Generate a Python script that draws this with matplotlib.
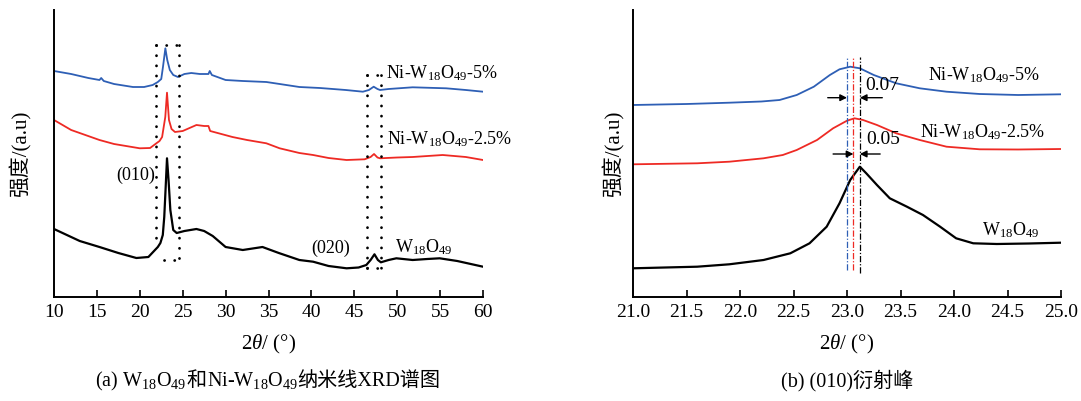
import matplotlib
matplotlib.use("Agg")
import matplotlib.pyplot as plt
from matplotlib.offsetbox import TextArea, HPacker, AnnotationBbox

FAM = ['Liberation Serif', 'Noto Sans CJK SC', 'DejaVu Sans']
plt.rcParams['font.family'] = FAM
plt.rcParams['mathtext.fontset'] = 'custom'
plt.rcParams['mathtext.rm'] = 'Liberation Serif'
plt.rcParams['mathtext.it'] = 'Liberation Serif:italic'
plt.rcParams['mathtext.bf'] = 'Liberation Serif:bold'

# ---------------- data (a): full XRD patterns (offset intensity, a.u.) ----------------
a_x_5 = [10, 12, 14, 15.3, 15.5, 15.8, 17, 19.2, 20.5, 21.5, 22.1, 22.5, 22.7, 22.98, 23.2, 23.5, 23.9,
         24.45, 25.2, 26, 27, 28.0, 28.15, 28.4, 30, 32, 34.75, 36.3, 38.6, 41, 44, 46.0, 46.7, 47.26,
         47.7, 48.0, 49, 51.8, 55.7, 58, 60]
a_y_5 = [226, 223, 219, 217, 219, 216, 213, 210, 210, 212, 215, 218, 230, 248.7, 237, 227, 222,
         220, 223, 224, 223, 223, 226, 222, 217, 216, 215, 213, 210, 209, 207, 205.3, 207, 210.3,
         208, 207, 208, 209.7, 208.7, 207, 205.3]

a_x_25 = [10, 12, 15.3, 17, 20, 21.2, 21.93, 22.3, 22.6, 22.97, 23.17, 23.4, 23.7, 24.1, 25, 26.6, 27.5,
          28.0, 28.2, 30.8, 32.5, 34.75, 36.3, 38.6, 40.2, 42, 44.1, 46.2, 46.9, 47.3, 47.7, 48.0, 50,
          51.8, 55.3, 58, 60]
a_y_25 = [177, 167, 157, 153, 148.7, 149, 153.7, 156, 160, 180, 204.3, 177, 168, 165, 166, 172, 171,
          171, 166, 160, 157, 153.7, 148.7, 144, 142, 139, 137, 137.7, 140, 143, 139.5, 138.7, 139.5,
          140, 142, 140, 137]

a_x_0 = [10, 13, 15.3, 17.5, 19.6, 21, 22.1, 22.4, 22.68, 22.85, 23.0, 23.17, 23.35, 23.56, 23.9, 24.3,
         25.2, 26.6, 27.5, 28.5, 30, 32, 34.3, 36.2, 38.6, 40.2, 42, 44.1, 45.5, 46.4, 46.9, 47.35, 47.75,
         48.1, 49.0, 49.9, 51.8, 53.5, 54.95, 57, 60]
a_y_0 = [68, 56, 50, 44, 39, 40, 50, 54, 62, 80, 107, 138.7, 117, 87, 67, 64,
         66, 68, 66, 61, 50, 47, 50, 44, 37, 35.3, 31, 28.7, 29.5, 32, 37, 42.7, 37,
         34.7, 37, 38.7, 37, 38, 38.7, 36, 30.3]

# ---------------- data (b): (010) peak region ----------------
b_x_5 = [21.0, 21.5, 21.9, 22.2, 22.37, 22.53, 22.69, 22.84, 22.93, 23.03, 23.12, 23.25, 23.46, 23.68,
         23.93, 24.24, 24.6, 25.0]
b_y_5 = [192, 193, 194.3, 195.5, 197, 202, 210.3, 222, 227.7, 230.3, 228.7, 222, 213.7, 208.7,
         205.3, 203, 202, 202.7]

b_x_25 = [21.0, 21.6, 21.9, 22.22, 22.4, 22.53, 22.72, 22.87, 23.0, 23.07, 23.15, 23.28, 23.46, 23.68,
          23.93, 24.24, 24.6, 25.0]
b_y_25 = [132.7, 133.7, 135.3, 138.7, 142, 147, 157, 168.7, 176.3, 178.7, 177, 172, 163.7, 157,
          150.3, 147.7, 147.5, 148]

b_x_0 = [21.0, 21.6, 21.9, 22.22, 22.47, 22.65, 22.81, 22.93, 23.03, 23.12, 23.18, 23.28, 23.4, 23.56,
         23.71, 23.87, 24.02, 24.18, 24.4, 24.7, 25.0]
b_y_0 = [28.7, 30.3, 32.7, 37, 43.7, 53.7, 70.3, 93.7, 117, 130.3, 123.7, 112, 98.7, 90.3,
         82, 70.3, 58.7, 53.7, 53, 53.5, 54.3]

peak_pos = [23.00, 23.06, 23.12]  # peak centres: Ni-5%, Ni-2.5%, pure

BLUE = '#2e5fb5'
RED = '#ee2a24'
BLACK = '#000000'
FS_ANN = 13
FS_TICK = 14
FS_LAB = 15
FS_CAP = 14.5

fig = plt.figure(figsize=(10.81, 4.01), dpi=100)
axA = fig.add_axes([54 / 1081, 104 / 401, 429 / 1081, 287 / 401])
axB = fig.add_axes([633 / 1081, 104 / 401, 428 / 1081, 287 / 401])

for ax in (axA, axB):
    ax.spines['top'].set_visible(False)
    ax.spines['right'].set_visible(False)
    ax.spines['left'].set_linewidth(1.4)
    ax.spines['bottom'].set_linewidth(1.4)
    ax.set_yticks([])
    ax.tick_params(axis='x', direction='in', length=5, width=1.2, labelsize=FS_TICK, pad=5)
    ax.set_ylim(0, 287)
    ax.set_xlabel(r'$2\theta$/ (°)', fontsize=FS_LAB, labelpad=9)
axA.set_ylabel('强度/(a.u)', fontsize=FS_LAB, labelpad=16)
axB.set_ylabel('强度/(a.u)', fontsize=FS_LAB, labelpad=6)

# ----- panel (a) -----
axA.plot(a_x_5, a_y_5, color=BLUE, lw=1.3)
axA.plot(a_x_25, a_y_25, color=RED, lw=1.3)
axA.plot(a_x_0, a_y_0, color=BLACK, lw=1.6)
axA.set_xlim(10, 60)
axA.set_xticks(range(10, 61, 5))

dot = dict(color='black', lw=2.0, linestyle=(0, (0.05, 3.6)), dash_capstyle='round')
# dotted box around (010)
axA.plot([21.93, 21.93], [252, 54], **dot)
axA.plot([24.57, 24.57], [252, 37], **dot)
axA.plot([21.93, 24.57], [252, 252], **dot)
axA.plot([22.85, 24.57], [37, 37], **dot)
# dotted box around (020)
axA.plot([46.5, 46.5], [222, 29], **dot)
axA.plot([48.16, 48.16], [222, 29], **dot)
axA.plot([46.5, 48.16], [29, 29], **dot)
axA.plot([46.5, 48.16], [222, 222], **dot)

axA.text(48.74, 223.7, r'Ni-W$_{18}$O$_{49}$-5%', fontsize=FS_ANN, va='center', ha='left')
axA.text(48.8, 158, r'Ni-W$_{18}$O$_{49}$-2.5%', fontsize=FS_ANN, va='center', ha='left')
axA.text(49.7, 50.3, r'W$_{18}$O$_{49}$', fontsize=FS_ANN, va='center', ha='left')
axA.text(17.2, 122, '(010)', fontsize=FS_ANN, va='center', ha='left')
axA.text(40.0, 48.7, '(020)', fontsize=FS_ANN, va='center', ha='left')

# ----- panel (b) -----
axB.plot(b_x_5, b_y_5, color=BLUE, lw=1.3)
axB.plot(b_x_25, b_y_25, color=RED, lw=1.3)
axB.plot(b_x_0, b_y_0, color=BLACK, lw=1.6)
axB.set_xlim(21.0, 25.0)
axB.set_xticks([21.0, 21.5, 22.0, 22.5, 23.0, 23.5, 24.0, 24.5, 25.0])
axB.set_xticklabels(['21.0', '21.5', '22.0', '22.5', '23.0', '23.5', '24.0', '24.5', '25.0'])

dd = (0, (5, 1.5, 1, 1.5))
axB.plot([peak_pos[0]] * 2, [27, 240], color=BLUE, lw=0.9, linestyle=dd)
axB.plot([peak_pos[1]] * 2, [27, 240], color=RED, lw=0.9, linestyle=dd)
axB.plot([peak_pos[2]] * 2, [24, 240], color=BLACK, lw=0.9, linestyle=dd)

arw = dict(arrowstyle='-|>', color='black', lw=1.0, mutation_scale=10, shrinkA=0, shrinkB=0)
axB.annotate('', xy=(peak_pos[0], 199.3), xytext=(22.82, 199.3), arrowprops=arw)
axB.annotate('', xy=(peak_pos[2], 199.3), xytext=(23.33, 199.3), arrowprops=arw)
axB.annotate('', xy=(peak_pos[1], 143), xytext=(22.87, 143), arrowprops=arw)
axB.annotate('', xy=(peak_pos[2], 143), xytext=(23.31, 143), arrowprops=arw)
axB.text(23.17, 212, '0.07', fontsize=FS_ANN + 1, va='center', ha='left')
axB.text(23.18, 157, '0.05', fontsize=FS_ANN + 1, va='center', ha='left')

axB.text(23.76, 222, r'Ni-W$_{18}$O$_{49}$-5%', fontsize=FS_ANN, va='center', ha='left')
axB.text(23.68, 165.3, r'Ni-W$_{18}$O$_{49}$-2.5%', fontsize=FS_ANN, va='center', ha='left')
axB.text(24.26, 67, r'W$_{18}$O$_{49}$', fontsize=FS_ANN, va='center', ha='left')

# captions (mixed Latin subscripts and CJK: packed pieces)
def caption(parts, xy):
    tp = dict(fontsize=FS_CAP, family=FAM)
    box = HPacker(children=[TextArea(p, textprops=tp) for p in parts],
                  align='baseline', pad=0, sep=0)
    ab = AnnotationBbox(box, xy, xycoords='figure fraction', frameon=False,
                        box_alignment=(0.5, 0.5), pad=0)
    fig.add_artist(ab)

caption([r'(a) W$_{18}$O$_{49}$', '和', r'Ni-W$_{18}$O$_{49}$', '纳米线XRD谱图'],
        (268 / 1081, 1 - 381 / 401))
caption(['(b) (010)衍射峰'], (847 / 1081, 1 - 381 / 401))

fig.savefig('out.png', dpi=100)
